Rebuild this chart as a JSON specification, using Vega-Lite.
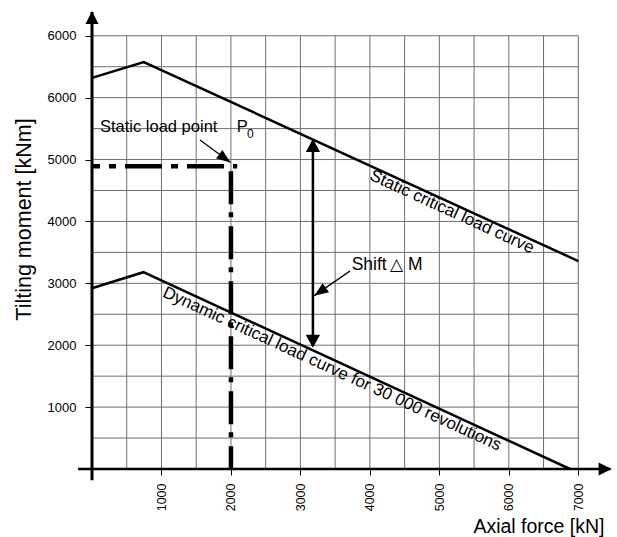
{
  "$schema": "https://vega.github.io/schema/vega-lite/v6.json",
  "width": 521,
  "height": 458,
  "autosize": {"type": "none"},
  "padding": {"left": 92, "top": 11, "right": 4, "bottom": 68},
  "background": "white",
  "config": {
    "view": {"stroke": null},
    "font": "Liberation Sans",
    "text": {"color": "black"},
    "axis": {"labelFont": "Liberation Sans", "titleFont": "Liberation Sans", "labelColor": "black", "titleColor": "black", "titleFontWeight": "normal", "grid": false, "domain": false, "tickColor": "black"}
  },
  "datasets": {
    "vgrid": [
      {"force": 500, "moment": 0, "moment2": 7000}, {"force": 1000, "moment": 0, "moment2": 7000},
      {"force": 1500, "moment": 0, "moment2": 7000}, {"force": 2000, "moment": 0, "moment2": 7000},
      {"force": 2500, "moment": 0, "moment2": 7000}, {"force": 3000, "moment": 0, "moment2": 7000},
      {"force": 3500, "moment": 0, "moment2": 7000}, {"force": 4000, "moment": 0, "moment2": 7000},
      {"force": 4500, "moment": 0, "moment2": 7000}, {"force": 5000, "moment": 0, "moment2": 7000},
      {"force": 5500, "moment": 0, "moment2": 7000}, {"force": 6000, "moment": 0, "moment2": 7000},
      {"force": 6500, "moment": 0, "moment2": 7000}, {"force": 7000, "moment": 0, "moment2": 7000}
    ],
    "hgrid": [
      {"moment": 500, "force": 0, "force2": 7000}, {"moment": 1000, "force": 0, "force2": 7000},
      {"moment": 1500, "force": 0, "force2": 7000}, {"moment": 2000, "force": 0, "force2": 7000},
      {"moment": 2500, "force": 0, "force2": 7000}, {"moment": 3000, "force": 0, "force2": 7000},
      {"moment": 3500, "force": 0, "force2": 7000}, {"moment": 4000, "force": 0, "force2": 7000},
      {"moment": 4500, "force": 0, "force2": 7000}, {"moment": 5000, "force": 0, "force2": 7000},
      {"moment": 5500, "force": 0, "force2": 7000}, {"moment": 6000, "force": 0, "force2": 7000},
      {"moment": 6500, "force": 0, "force2": 7000}, {"moment": 7000, "force": 0, "force2": 7000}
    ],
    "curves": [
      {"curve": "static", "force": 0, "moment": 6320},
      {"curve": "static", "force": 745, "moment": 6575},
      {"curve": "static", "force": 7000, "moment": 3360},
      {"curve": "dynamic", "force": 0, "moment": 2920},
      {"curve": "dynamic", "force": 740, "moment": 3180},
      {"curve": "dynamic", "force": 6880, "moment": 0}
    ]
  },
  "encoding": {
    "x": {"field": "force", "type": "quantitative", "scale": {"domain": [0, 7500], "nice": false, "zero": false},
      "axis": {"orient": "bottom", "title": "Axial force [kN]", "values": [1000, 2000, 3000, 4000, 5000, 6000, 7000], "format": "d", "ticks": true, "tickSize": 6, "tickWidth": 1, "labelAngle": 270, "labelAlign": "right", "labelBaseline": "middle", "labelFontSize": 12.5, "labelPadding": 8, "labelFlush": false, "labelOverlap": false, "titleFontSize": 19.5, "titleX": 512, "titleY": 63, "titleAlign": "right", "titleBaseline": "alphabetic"}},
    "y": {"field": "moment", "type": "quantitative", "scale": {"domain": [0, 7400], "nice": false, "zero": false},
      "axis": {"orient": "left", "title": "Tilting moment [kNm]", "values": [1000, 2000, 3000, 4000, 5000, 6000, 7000], "format": "d", "labelExpr": "datum.value === 7000 ? '6000' : datum.label", "ticks": true, "tickSize": 7, "tickWidth": 1, "labelFontSize": 13, "labelPadding": 9, "labelBaseline": "middle", "labelFlush": false, "labelOverlap": false, "titleFontSize": 21.5, "titleAngle": 270, "titleX": -62, "titleY": 208, "titleAlign": "center", "titleBaseline": "alphabetic"}}
  },
  "layer": [
    {
      "data": {"name": "vgrid"},
      "mark": {"type": "rule", "color": "#6e6e6e", "strokeWidth": 1},
      "encoding": {"y2": {"field": "moment2"}}
    },
    {
      "data": {"name": "hgrid"},
      "mark": {"type": "rule", "color": "#6e6e6e", "strokeWidth": 1},
      "encoding": {"x2": {"field": "force2"}}
    },
    {
      "data": {"values": [{"force": 0, "moment": -180, "moment2": 7385}]},
      "mark": {"type": "rule", "color": "black", "strokeWidth": 3},
      "encoding": {"y2": {"field": "moment2"}}
    },
    {
      "data": {"values": [{"force": -200, "force2": 7465, "moment": 0}]},
      "mark": {"type": "rule", "color": "black", "strokeWidth": 2.5},
      "encoding": {"x2": {"field": "force2"}}
    },
    {
      "data": {"values": [{"force": 0, "moment": 7400}]},
      "mark": {"type": "point", "shape": "M0,0L-2,-1L-2,1Z", "size": 169, "filled": true, "color": "black", "opacity": 1, "strokeWidth": 0, "angle": 270}
    },
    {
      "data": {"values": [{"force": 7480, "moment": 0}]},
      "mark": {"type": "point", "shape": "M0,0L-2,-1L-2,1Z", "size": 169, "filled": true, "color": "black", "opacity": 1, "strokeWidth": 0, "angle": 0}
    },
    {
      "data": {"name": "curves"},
      "mark": {"type": "line", "color": "black", "strokeWidth": 2.5},
      "encoding": {"detail": {"field": "curve"}}
    },
    {
      "data": {"values": [{"force": 0, "force2": 2090, "moment": 4890}]},
      "mark": {"type": "rule", "color": "black", "strokeWidth": 4.5, "strokeDash": [37, 9, 7, 9], "strokeDashOffset": 29},
      "encoding": {"x2": {"field": "force2"}}
    },
    {
      "data": {"values": [{"force": 2000, "moment": 4890, "moment2": 0}]},
      "mark": {"type": "rule", "color": "black", "strokeWidth": 4.5, "strokeDash": [33, 8, 5, 9], "strokeDashOffset": 50},
      "encoding": {"y2": {"field": "moment2"}}
    },
    {
      "data": {"values": [{"force": 3180, "moment": 5300, "moment2": 1990}]},
      "mark": {"type": "rule", "color": "black", "strokeWidth": 2.5},
      "encoding": {"y2": {"field": "moment2"}}
    },
    {
      "data": {"values": [{"force": 3180, "moment": 5330}]},
      "mark": {"type": "point", "shape": "M0,0L-2,-1.1L-2,1.1Z", "size": 169, "filled": true, "color": "black", "opacity": 1, "strokeWidth": 0, "angle": 270}
    },
    {
      "data": {"values": [{"force": 3180, "moment": 1960}]},
      "mark": {"type": "point", "shape": "M0,0L-2,-1.1L-2,1.1Z", "size": 169, "filled": true, "color": "black", "opacity": 1, "strokeWidth": 0, "angle": 90}
    },
    {
      "data": {"values": [{"force": 1555, "moment": 5316, "force2": 1994, "moment2": 4952}]},
      "mark": {"type": "rule", "color": "black", "strokeWidth": 1.3},
      "encoding": {"x2": {"field": "force2"}, "y2": {"field": "moment2"}}
    },
    {
      "data": {"values": [{"force": 1994, "moment": 4952}]},
      "mark": {"type": "point", "shape": "M0,0L-2,-0.75L-2,0.75Z", "size": 196, "filled": true, "color": "black", "opacity": 1, "strokeWidth": 0, "angle": 36.4}
    },
    {
      "data": {"values": [{"force": 3714, "moment": 3199, "force2": 3200, "moment2": 2800}]},
      "mark": {"type": "rule", "color": "black", "strokeWidth": 1.5},
      "encoding": {"x2": {"field": "force2"}, "y2": {"field": "moment2"}}
    },
    {
      "data": {"values": [{"force": 3200, "moment": 2800}]},
      "mark": {"type": "point", "shape": "M0,0L-2,-0.8L-2,0.8Z", "size": 196, "filled": true, "color": "black", "opacity": 1, "strokeWidth": 0, "angle": 145.3}
    },
    {
      "data": {"values": [
        {"force": 115, "moment": 5453, "label": "Static load point"},
        {"force": 2083, "moment": 5453, "label": "P"}
      ]},
      "mark": {"type": "text", "align": "left", "baseline": "alphabetic", "fontSize": 16.5, "fill": "black", "font": "Liberation Sans"},
      "encoding": {"text": {"field": "label"}}
    },
    {
      "data": {"values": [{"force": 2231, "moment": 5343, "label": "0"}]},
      "mark": {"type": "text", "align": "left", "baseline": "alphabetic", "fontSize": 12, "font": "Liberation Sans"},
      "encoding": {"text": {"field": "label", "type": "nominal"}, "color": {"value": "#000000"}}
    },
    {
      "data": {"values": [
        {"force": 3738, "moment": 3215, "label": "Shift"},
        {"force": 4548, "moment": 3215, "label": "M"}
      ]},
      "mark": {"type": "text", "align": "left", "baseline": "alphabetic", "fontSize": 17.5, "fill": "black", "font": "Liberation Sans"},
      "encoding": {"text": {"field": "label"}}
    },
    {
      "data": {"values": [{"force": 4289, "moment": 3215, "label": "△"}]},
      "mark": {"type": "text", "align": "left", "baseline": "alphabetic", "fontSize": 17, "fill": "black", "font": "DejaVu Sans"},
      "encoding": {"text": {"field": "label"}}
    },
    {
      "data": {"values": [{"force": 5182, "moment": 4153, "label": "Static critical load curve"}]},
      "mark": {"type": "text", "align": "center", "baseline": "middle", "fontSize": 17, "angle": 24.6, "fill": "black", "font": "Liberation Sans"},
      "encoding": {"text": {"field": "label"}}
    },
    {
      "data": {"values": [{"force": 3455, "moment": 1616, "label": "Dynamic critical load curve for 30 000 revolutions"}]},
      "mark": {"type": "text", "align": "center", "baseline": "middle", "fontSize": 17, "angle": 24.7, "fill": "black", "font": "Liberation Sans"},
      "encoding": {"text": {"field": "label"}}
    }
  ]
}
